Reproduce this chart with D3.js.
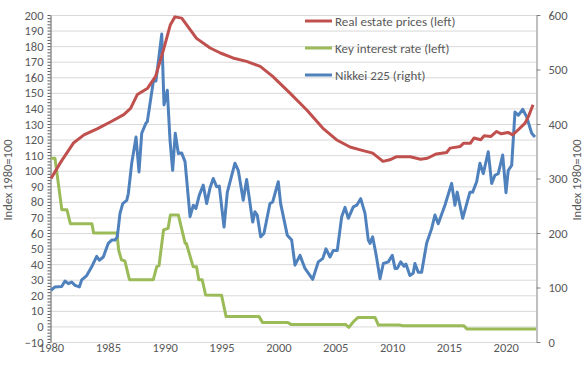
<!DOCTYPE html>
<html>
<head>
<meta charset="utf-8">
<script src="https://cdn.jsdelivr.net/npm/d3@7"></script>
<style>
  body { margin: 0; background: #fff; }
  text { font-family: Calibri, Carlito, Lato, sans-serif; fill: #595959; font-size: 12.5px; }
  .grid line { stroke: #d9d9d9; stroke-width: 1; }
  .grid path.domain { stroke: none; }
</style>
</head>
<body>
<div id="viz"><svg width="585" height="390"></svg></div>
<script>
// values, [year, value]
var realEstate = [[1980,95],[1980.9,106],[1982,118],[1982.9,123],[1984.1,127],[1985.3,131.6],[1986.4,136],
  [1987,140],[1987.6,149],[1988.5,153],[1989.2,160.6],[1989.9,177.8],[1990.5,193.8],[1990.9,198.8],[1991.5,198],
  [1992.8,185],[1994,178.8],[1994.9,175.6],[1996,172.4],[1997.2,170.2],[1998.4,167],[1999.5,160.6],[2001,150],
  [2002.5,139],[2003.9,127.4],[2005.1,119.9],[2006.3,115.2],[2007.2,113.4],[2008.3,111.3],[2009.2,106],[2009.8,107],
  [2010.4,109],[2011.6,109],[2012.5,107.4],[2013.1,108],[2013.9,110.8],[2014.8,111.7],[2015.1,114.5],[2016,115.6],
  [2016.3,117.7],[2016.9,117.7],[2017.2,121],[2017.8,119.9],[2018.1,122.4],[2018.7,122],[2019.2,125.2],[2019.6,123.7],
  [2020.2,124.6],[2020.6,123],[2021.1,126.3],[2021.7,130.6],[2022,134.9],[2022.4,142.4]];

var interestRate = [[1980,108],[1980.35,108],[1980.95,75],[1981.4,75],[1981.7,66],[1983.6,66],[1983.75,60],
  [1985.8,60],[1985.95,49],[1986.2,42.7],[1986.5,42],[1986.9,30],[1989,30],[1989.3,38.4],[1989.5,39],[1989.9,62],
  [1990.3,63],[1990.5,71.6],[1991.2,71.6],[1991.8,53.4],[1991.9,53.4],[1992.5,38.4],[1992.8,38.4],[1993,30],
  [1993.3,30],[1993.6,20.2],[1995,20],[1995.4,6.3],[1998.3,6.3],[1998.6,2.6],[2000.8,2.6],[2001.1,1.3],
  [2005.9,1.3],[2006.2,-0.6],[2006.6,3],[2007,5.8],[2008.5,5.8],[2008.8,0.9],[2010.6,0.9],[2011,0.5],
  [2016.3,0.5],[2016.6,-1.7],[2022.66,-1.7]];

var nikkei = [[1980,95],[1980.35,101],[1980.94,102],[1981.23,112],[1981.52,107],[1981.82,110],[1982.11,104],
  [1982.49,101],[1982.7,114],[1983.14,122],[1983.58,138],[1984.02,157],[1984.25,150],[1984.6,156],[1985.04,181],
  [1985.34,187],[1985.63,187],[1985.83,193],[1986.07,236],[1986.31,254],[1986.66,260],[1986.8,272],[1987.1,328],
  [1987.48,376],[1987.74,312],[1987.98,383],[1988.36,402],[1988.47,404],[1989,478],[1989.23,479],[1989.74,565],
  [1989.94,435],[1990.23,462],[1990.47,370],[1990.7,315],[1990.93,383],[1991.2,346],[1991.49,347],[1991.79,331],
  [1992.23,230],[1992.52,251],[1992.75,245],[1993.04,269],[1993.39,288],[1993.69,254],[1993.98,282],[1994.27,300],
  [1994.57,285],[1994.8,286],[1995.22,211],[1995.51,275],[1996.18,328],[1996.47,315],[1996.91,260],[1997.21,298],
  [1997.74,220],[1997.94,239],[1998.14,233],[1998.44,193],[1998.73,199],[1999.26,254],[1999.5,257],[1999.99,294],
  [2000.2,254],[2000.78,196],[2001.17,187],[2001.46,141],[2001.9,159],[2002.34,135],[2003.02,115],[2003.51,147],
  [2003.9,153],[2004.19,171],[2004.54,156],[2004.83,168],[2005.18,168],[2005.57,230],[2005.86,247],[2006.15,227],
  [2006.59,248],[2006.89,251],[2007.24,263],[2007.62,236],[2007.91,187],[2008.06,181],[2008.29,193],[2008.58,162],
  [2008.94,116],[2009.23,144],[2009.67,147],[2010.02,159],[2010.26,135],[2010.46,135],[2010.76,147],[2011.05,139],
  [2011.22,143],[2011.57,122],[2011.86,126],[2012.01,144],[2012.3,128],[2012.6,128],[2013.04,181],[2013.48,208],
  [2013.77,233],[2014.06,217],[2014.65,251],[2015.24,291],[2015.53,251],[2015.73,275],[2016.21,227],[2016.85,275],
  [2017.09,275],[2017.44,294],[2017.73,328],[2018.02,309],[2018.46,349],[2018.76,291],[2019.05,306],[2019.34,309],
  [2019.73,343],[2020.02,274],[2020.22,315],[2020.52,324],[2020.81,422],[2021.1,416],[2021.49,427],[2021.84,413],
  [2022.28,383],[2022.57,376]];

var seriesNames = ["Real estate prices (left)", "Key interest rate (left)", "Nikkei 225 (right)"];
var seriesColors = ["#c0504d", "#9bbb59", "#4f81bd"];
var yearTicks = [1980, 1985, 1990, 1995, 2000, 2005, 2010, 2015, 2020];
var leftTicks = d3.range(-10, 201, 10);
var rightTicks = [0, 100, 200, 300, 400, 500, 600];

var svg = d3.select("svg");
var x = d3.scaleLinear().domain([1980, 2022.66]).range([51, 536]);
var yL = d3.scaleLinear().domain([-10, 200]).range([342, 15]);
var yR = d3.scaleLinear().domain([0, 600]).range([342, 15]);

// gridlines
svg.append("g").attr("class", "grid")
  .attr("transform", "translate(51,0)")
  .call(d3.axisRight(yL).tickValues(leftTicks).tickSize(485).tickFormat(""));

// left axis with minor ticks
svg.append("g")
  .attr("transform", "translate(50.5,0)")
  .call(d3.axisLeft(yL).tickValues(d3.range(-10, 201, 2)).tickSize(3).tickSizeOuter(0).tickFormat(""))
  .call(g => g.selectAll("line, path").attr("stroke", "#595959"));
svg.append("g")
  .attr("transform", "translate(50.5,0)")
  .call(d3.axisLeft(yL).tickValues(leftTicks).tickSize(0).tickPadding(7))
  .call(g => g.select(".domain").remove())
  .call(g => g.selectAll("text").attr("fill", "#595959").style("font-size", "12.5px"));

// right axis
svg.append("g")
  .attr("transform", "translate(536.5,0)")
  .call(d3.axisRight(yR).tickValues(rightTicks).tickSize(4).tickSizeOuter(0).tickPadding(8))
  .call(g => g.selectAll("line, path").attr("stroke", "#808080"))
  .call(g => g.selectAll("text").attr("fill", "#595959").style("font-size", "12.5px"));

// x labels
svg.append("g")
  .attr("transform", "translate(0,342)")
  .call(d3.axisBottom(x).tickValues(yearTicks).tickSize(0).tickPadding(1).tickFormat(d3.format("d")))
  .call(g => g.select(".domain").remove())
  .call(g => g.selectAll("text").attr("fill", "#595959").style("font-size", "12.5px"));

// axis titles
svg.append("text").attr("transform", "translate(12,180) rotate(-90)")
  .attr("text-anchor", "middle").text("Index 1980=100");
svg.append("text").attr("transform", "translate(581,180) rotate(-90)")
  .attr("text-anchor", "middle").text("Index 1980=100");

// lines
var lineL = d3.line().x(d => x(d[0])).y(d => yL(d[1]));
var lineR = d3.line().x(d => x(d[0])).y(d => yR(d[1]));
svg.append("path").attr("d", lineL(interestRate)).attr("fill", "none")
  .attr("stroke", seriesColors[1]).attr("stroke-width", 3).attr("stroke-linejoin", "round");
svg.append("path").attr("d", lineR(nikkei)).attr("fill", "none")
  .attr("stroke", seriesColors[2]).attr("stroke-width", 3).attr("stroke-linejoin", "round");
svg.append("path").attr("d", lineL(realEstate)).attr("fill", "none")
  .attr("stroke", seriesColors[0]).attr("stroke-width", 3).attr("stroke-linejoin", "round");

// legend
var legend = svg.append("g").attr("transform", "translate(305,21)");
seriesNames.forEach((name, i) => {
  var g = legend.append("g").attr("transform", `translate(0,${i * 27})`);
  g.append("line").attr("x1", 0).attr("x2", 27).attr("y1", 0).attr("y2", 0)
    .attr("stroke", seriesColors[i]).attr("stroke-width", 3);
  g.append("text").attr("x", 30).attr("y", 4.5).style("font-size", "13px").text(name);
});
</script>
</body>
</html>
